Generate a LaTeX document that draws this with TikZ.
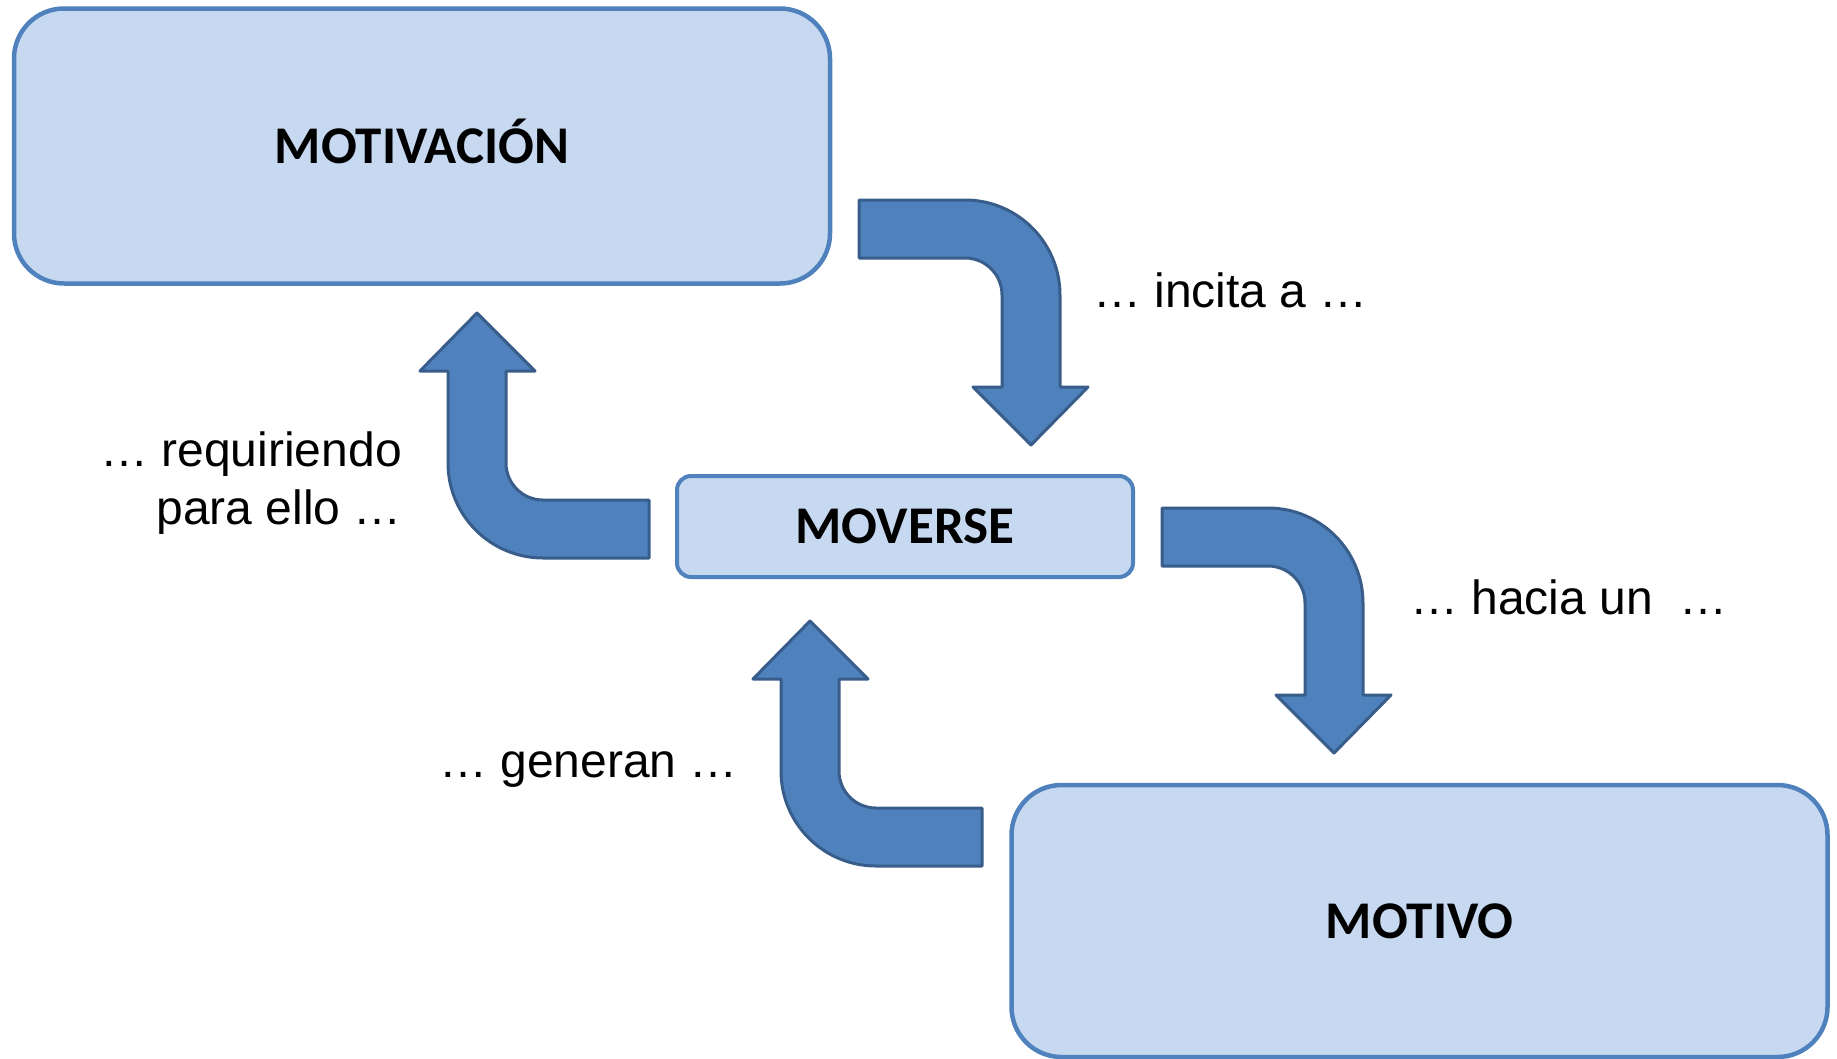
\documentclass[tikz,border=0pt]{standalone}
\usepackage{fontspec}
\setmainfont{Liberation Sans}
\newfontfamily\calfont{Carlito}
\definecolor{boxline}{RGB}{79,129,189}
\definecolor{boxfill}{RGB}{198,217,241}
\definecolor{arrfill}{RGB}{79,129,189}
\definecolor{arrline}{RGB}{56,93,138}
\begin{document}
\begin{tikzpicture}[x=1pt,y=-1pt,
  box/.style={draw=boxline,fill=boxfill,line width=4.5pt,rounded corners=50pt,
    font=\calfont\bfseries\fontsize{53}{63}\selectfont,text height=34pt,text depth=0pt},
  lbl/.style={font=\fontsize{48}{58}\selectfont,inner sep=0pt},
  barrow/.pic={\draw[fill=arrfill,draw=arrline,line width=3pt,line join=round]
    (0,0) -- (106,0) arc[start angle=-90,end angle=0,radius=95] -- (201,187) -- (229,187)
    -- (172,245) -- (114,187) -- (143,187) -- (143,95) arc[start angle=0,end angle=-90,radius=37]
    -- (0,58) -- cycle;}]
\useasboundingbox (0,0) rectangle (1837,1058);
\node[box,minimum width=816pt,minimum height=275pt] (mot) at (422,146) {MOTIVACIÓN};
\node[box,rounded corners=14pt,line width=4pt,minimum width=456pt,minimum height=101pt] (mov) at (905,526.5) {MOVERSE};
\node[box,minimum width=816pt,minimum height=272pt] (mtv) at (1419.5,921) {MOTIVO};

\pic at (859,200) {barrow};
\pic at (1162,508) {barrow};
\pic[rotate=180] at (649,558) {barrow};
\pic[rotate=180] at (982,866) {barrow};

\node[lbl,anchor=base west] (inc) at (1093,307) {… incita a …};
\node[lbl,anchor=base east,align=right] (req) at (402,524) {… requiriendo\\para ello …};
\node[lbl,anchor=base west] (hac) at (1410,614) {… hacia un~~…};
\node[lbl,anchor=base west] (gen) at (439,777) {… generan …};
\end{tikzpicture}
\end{document}
